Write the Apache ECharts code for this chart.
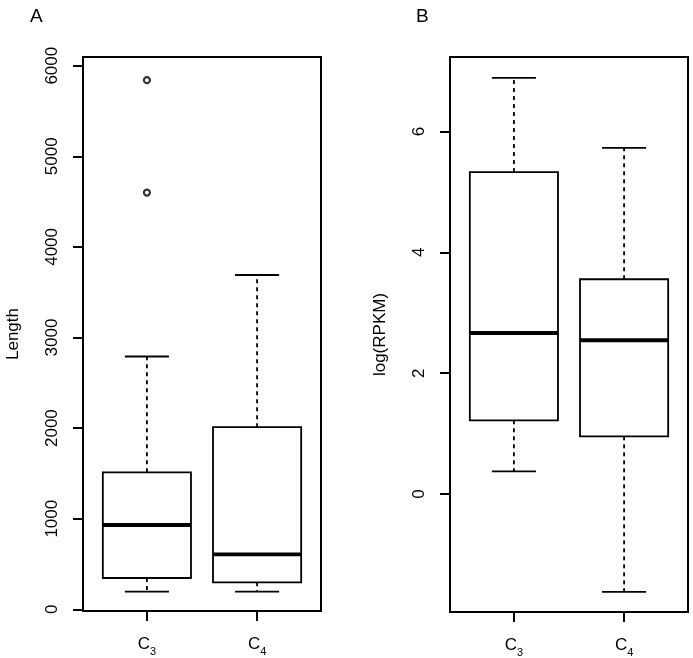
<!DOCTYPE html>
<html>
<head>
<meta charset="utf-8">
<script src="https://cdn.jsdelivr.net/npm/echarts@6/dist/echarts.min.js"></script>
<style>html,body{margin:0;padding:0;background:#fff}#c{width:693px;height:658px}</style>
</head>
<body>
<div id="c"></div>
<script>
// ---- data ----
const categories = ['C3', 'C4'];
// [lower whisker, Q1, median, Q3, upper whisker]
const lengthStats = [
  [194, 345, 930, 1512, 2790],
  [194, 298, 607, 2010, 3690]
];
// [category index, value]
const lengthOutliers = [[0, 4600], [0, 5840]];
const rpkmStats = [
  [0.375, 1.22, 2.665, 5.33, 6.89],
  [-1.62, 0.955, 2.545, 3.555, 5.73]
];
const lengthTicks = [0, 1000, 2000, 3000, 4000, 5000, 6000];
const rpkmTicks = [0, 2, 4, 6];
const panelLabels = ['A', 'B'];
const yNames = ['Length', 'log(RPKM)'];

const FONT = 'Liberation Sans, Arial, sans-serif';
const FS = 17;

function renderBox(params, api) {
  const x = api.value(0);
  const low = api.value(1), q1 = api.value(2), med = api.value(3), q3 = api.value(4), high = api.value(5);
  const pLow = api.coord([x, low]);
  const pQ1 = api.coord([x, q1]);
  const pMed = api.coord([x, med]);
  const pQ3 = api.coord([x, q3]);
  const pHigh = api.coord([x, high]);
  const hw = api.size([0.8, 0])[0] / 2;
  const cw = api.size([0.4, 0])[0] / 2;
  const cx = pMed[0];
  const thin = {stroke: '#000', lineWidth: 1.8};
  const dash = {stroke: '#000', lineWidth: 1.8, lineDash: [4, 4]};
  return {
    type: 'group',
    children: [
      {type: 'line', shape: {x1: cx, y1: pQ3[1], x2: cx, y2: pHigh[1]}, style: dash},
      {type: 'line', shape: {x1: cx, y1: pQ1[1], x2: cx, y2: pLow[1]}, style: dash},
      {type: 'line', shape: {x1: cx - cw, y1: pHigh[1], x2: cx + cw, y2: pHigh[1]}, style: thin},
      {type: 'line', shape: {x1: cx - cw, y1: pLow[1], x2: cx + cw, y2: pLow[1]}, style: thin},
      {type: 'rect', shape: {x: cx - hw, y: pQ3[1], width: 2 * hw, height: pQ1[1] - pQ3[1]},
        style: {fill: '#fff', stroke: '#000', lineWidth: 1.8}},
      {type: 'line', shape: {x1: cx - hw, y1: pMed[1], x2: cx + hw, y2: pMed[1]}, style: {stroke: '#000', lineWidth: 3.8}}
    ]
  };
}

function xAxisFor(gi) {
  return {
    type: 'value', gridIndex: gi, min: 0.42, max: 2.58,
    axisLine: {show: false, onZero: false},
    splitLine: {show: false},
    axisTick: {show: true, length: 10, customValues: [1, 2], lineStyle: {color: '#000', width: 2}},
    axisLabel: {
      show: true, customValues: [1, 2], margin: 20,
      formatter: function (v) {
        const c = categories[Math.round(v) - 1];
        return '{c|' + c.charAt(0) + '}{s|' + c.slice(1) + '}';
      },
      rich: {
        c: {fontSize: FS, fontFamily: FONT, color: '#000', lineHeight: 18},
        s: {fontSize: 11, fontFamily: FONT, color: '#000', lineHeight: 26, verticalAlign: 'bottom'}
      }
    }
  };
}

function yAxisFor(gi, min, max, ticks, name) {
  return {
    type: 'value', gridIndex: gi, min: min, max: max,
    name: name, nameLocation: 'middle', nameGap: 61, nameRotate: 90,
    nameTextStyle: {fontSize: FS, fontFamily: FONT, color: '#000'},
    axisLine: {show: false, onZero: false},
    splitLine: {show: false},
    axisTick: {show: true, length: 10, customValues: ticks, lineStyle: {color: '#000', width: 2}},
    axisLabel: {show: true, customValues: ticks, rotate: 90, margin: 22,
      formatter: function (v) { return String(v); },
      fontSize: FS, fontFamily: FONT, color: '#000'}
  };
}

const chart = echarts.init(document.getElementById('c'), null, {renderer: 'canvas'});
chart.setOption({
  animation: false,
  backgroundColor: '#fff',
  title: [
    {text: panelLabels[0], left: 25, top: 2, textStyle: {fontSize: 19, fontWeight: 'normal', fontFamily: FONT, color: '#000'}},
    {text: panelLabels[1], left: 411, top: 2, textStyle: {fontSize: 19, fontWeight: 'normal', fontFamily: FONT, color: '#000'}}
  ],
  grid: [
    {left: 83, top: 57, width: 238, height: 554, show: true, borderColor: '#000', borderWidth: 2, backgroundColor: 'transparent'},
    {left: 450, top: 57, width: 238, height: 555, show: true, borderColor: '#000', borderWidth: 2, backgroundColor: 'transparent'}
  ],
  xAxis: [xAxisFor(0), xAxisFor(1)],
  yAxis: [
    yAxisFor(0, -19, 6096, lengthTicks, yNames[0]),
    yAxisFor(1, -1.954, 7.235, rpkmTicks, yNames[1])
  ],
  series: [
    {type: 'custom', xAxisIndex: 0, yAxisIndex: 0, renderItem: renderBox,
      encode: {x: 0, y: [1, 2, 3, 4, 5]},
      data: lengthStats.map((s, i) => [i + 1].concat(s))},
    {type: 'scatter', xAxisIndex: 0, yAxisIndex: 0, symbol: 'circle', symbolSize: 6,
      itemStyle: {color: '#fff', borderColor: '#000', borderWidth: 2.2},
      data: lengthOutliers.map(o => [o[0] + 1, o[1]])},
    {type: 'custom', xAxisIndex: 1, yAxisIndex: 1, renderItem: renderBox,
      encode: {x: 0, y: [1, 2, 3, 4, 5]},
      data: rpkmStats.map((s, i) => [i + 1].concat(s))}
  ]
});
</script>
</body>
</html>
